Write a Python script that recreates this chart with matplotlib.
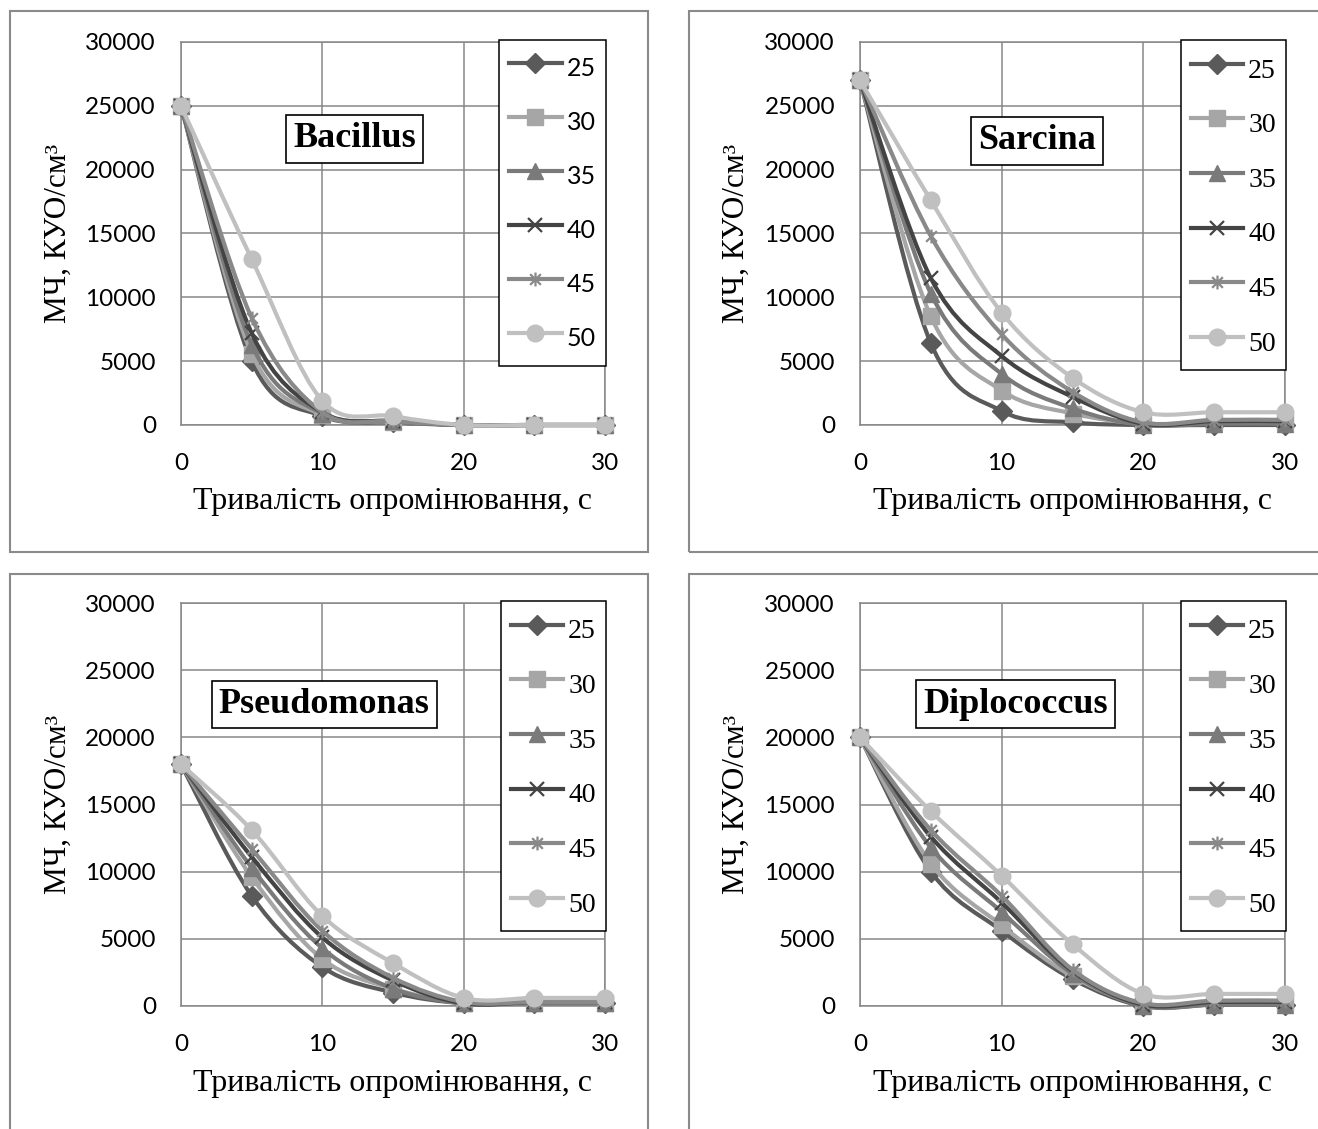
import numpy as np
import matplotlib.pyplot as plt
from matplotlib.path import Path
from matplotlib.patches import PathPatch, Rectangle
from matplotlib.lines import Line2D

# Data
t = [0, 5, 10, 15, 20, 25, 30]
doses = ["25", "30", "35", "40", "45", "50"]

bacillus = [
    [25000, 5000, 700, 200, 0, 0, 0],
    [25000, 5600, 800, 250, 0, 0, 0],
    [25000, 6300, 900, 300, 0, 0, 0],
    [25000, 7200, 1000, 300, 0, 0, 0],
    [25000, 8400, 1000, 300, 0, 0, 0],
    [25000, 13000, 1900, 700, 0, 0, 0],
]
sarcina = [
    [27000, 6400, 1100, 200, 0, 0, 0],
    [27000, 8500, 2700, 900, 100, 200, 200],
    [27000, 10300, 4000, 1300, 0, 100, 100],
    [27000, 11500, 5400, 2200, 100, 300, 300],
    [27000, 14800, 7100, 2600, 200, 400, 400],
    [27000, 17600, 8800, 3700, 1000, 1000, 1000],
]
pseudomonas = [
    [18000, 8200, 2900, 1000, 200, 200, 200],
    [18000, 9600, 3500, 1300, 200, 200, 200],
    [18000, 10300, 4300, 1300, 200, 200, 200],
    [18000, 11100, 5100, 1900, 200, 300, 300],
    [18000, 11700, 5600, 2100, 300, 300, 300],
    [18000, 13100, 6700, 3200, 600, 600, 600],
]
diplococcus = [
    [20000, 10000, 5600, 2000, 0, 100, 100],
    [20000, 10600, 6000, 2200, 100, 200, 200],
    [20000, 11800, 7000, 2400, 0, 100, 100],
    [20000, 12600, 7700, 2600, 100, 300, 300],
    [20000, 13100, 8200, 2700, 200, 400, 400],
    [20000, 14500, 9700, 4600, 900, 900, 900],
]

names = ["Bacillus", "Sarcina", "Pseudomonas", "Diplococcus"]
panels = [bacillus, sarcina, pseudomonas, diplococcus]

colors = ["#5a5a5a", "#a6a6a6", "#7a7a7a", "#444444", "#898989", "#c0c0c0"]
star = Path([(-1, -1), (1, 1), (-1, 1), (1, -1), (0, -1.3), (0, 1.3)],
            [Path.MOVETO, Path.LINETO, Path.MOVETO, Path.LINETO, Path.MOVETO, Path.LINETO])
markers = ["D", "s", "^", "x", star, "o"]
msizes = [10, 11, 11, 10, 10, 12]
mews = [1, 1, 1, 1.6, 1.6, 1]

SANS = "Lato"
SERIF = "Liberation Serif"
GRID = "#878787"
W, H = 1318, 1129


def smooth_path(x, y):
    # Excel-like smoothed line: cubic Bezier through the data points
    n = len(x)
    verts = [(x[0], y[0])]
    codes = [Path.MOVETO]
    for i in range(n - 1):
        xa, ya = x[max(i - 1, 0)], y[max(i - 1, 0)]
        xb, yb = x[min(i + 2, n - 1)], y[min(i + 2, n - 1)]
        c1 = (x[i] + (x[i + 1] - xa) / 6, y[i] + (y[i + 1] - ya) / 6)
        c2 = (x[i + 1] - (xb - x[i]) / 6, y[i + 1] - (yb - y[i]) / 6)
        verts += [c1, c2, (x[i + 1], y[i + 1])]
        codes += [Path.CURVE4] * 3
    return Path(verts, codes)


def plot_panel(ax, series, name, legend_font, legend_size, box_xy, h_px):
    for k, ys in enumerate(series):
        ax.add_patch(PathPatch(smooth_path(t, ys), fill=False, ec=colors[k], lw=3,
                               clip_on=False, zorder=3 + k))
        ax.plot(t, ys, ls="none", marker=markers[k], ms=msizes[k], color=colors[k],
                mec=colors[k], mew=mews[k], clip_on=False, zorder=3 + k)

    ax.set_xlim(0, 30)
    ax.set_ylim(0, 30000)
    ax.set_xticks([0, 10, 20, 30])
    ax.set_yticks(range(0, 30001, 5000))
    ax.grid(True, color=GRID, lw=1.1)
    for s in ax.spines.values():
        s.set_color(GRID)
        s.set_linewidth(1.1)
    ax.tick_params(length=0, labelsize=17.5)
    ax.tick_params(axis="y", pad=18)
    ax.tick_params(axis="x", pad=20)
    for lab in ax.get_xticklabels() + ax.get_yticklabels():
        lab.set_family(SANS)

    ax.set_xlabel("Тривалість опромінювання, с", family=SERIF, fontsize=23)
    ax.xaxis.label.set_va("center")
    ax.xaxis.set_label_coords(0.5, -77 / h_px)
    ax.set_ylabel("МЧ, КУО/см³", family=SERIF, fontsize=22.5)
    ax.yaxis.label.set_va("center")
    ax.yaxis.set_label_coords(-0.29, 0.5)

    ax.text(box_xy[0], box_xy[1], name, transform=ax.transAxes, ha="center", va="center",
            family=SERIF, fontsize=26, weight="bold", zorder=20,
            bbox=dict(boxstyle="square,pad=0.2", fc="white", ec="black", lw=1.2))

    handles = [Line2D([], [], color=colors[k], lw=3, marker=markers[k], ms=msizes[k],
                      mec=colors[k], mew=mews[k])
               for k in range(len(doses))]
    f = 18.0 / legend_size
    leg = ax.legend(handles, doses, loc="upper right", bbox_to_anchor=(1.002, 1.005),
                    borderaxespad=0, fancybox=False, framealpha=1, edgecolor="black",
                    handlelength=2.1 * f, handleheight=1.85 * f, handletextpad=0.2 * f,
                    labelspacing=0.71 * f, borderpad=0.4 * f,
                    prop={"family": legend_font, "size": legend_size})
    leg.get_frame().set_linewidth(1.1)
    leg.set_zorder(30)


fig = plt.figure(figsize=(13.18, 11.29), dpi=100)

# outer chart borders
for x0, y0, x1, y1 in [(10, 11, 648, 552), (689, 11, 1330, 552),
                       (10, 574, 648, 1140), (689, 574, 1330, 1140)]:
    fig.add_artist(Rectangle((x0 / W, 1 - y1 / H), (x1 - x0) / W, (y1 - y0) / H,
                             transform=fig.transFigure, fill=False, ec="#8a8a8a", lw=1.5))

axes_px = [(181, 42, 605, 425), (860, 42, 1285, 425),
           (181, 603, 605, 1006), (860, 603, 1285, 1006)]
box_pos = [(0.409, 0.747), (0.416, 0.742), (0.338, 0.748), (0.366, 0.749)]
leg_fonts = [SANS, SERIF, SERIF, SERIF]
leg_sizes = [18, 20, 20, 20]

for i in range(4):
    x0, y0, x1, y1 = axes_px[i]
    ax = fig.add_axes([x0 / W, 1 - y1 / H, (x1 - x0) / W, (y1 - y0) / H])
    plot_panel(ax, panels[i], names[i], leg_fonts[i], leg_sizes[i], box_pos[i], y1 - y0)

fig.savefig("out.png", dpi=100)
